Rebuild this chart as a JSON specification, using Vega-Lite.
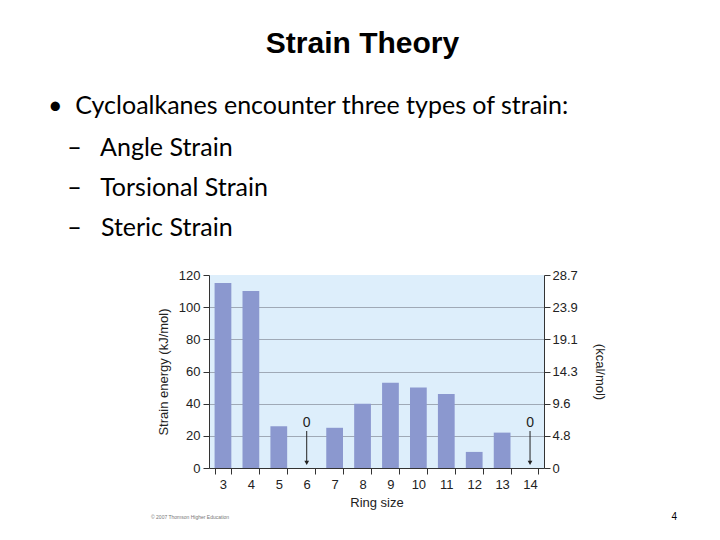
{
  "$schema": "https://vega.github.io/schema/vega-lite/v6.json",
  "padding": {"left": 48, "top": 29, "right": 5, "bottom": 5},
  "background": "white",
  "config": {"view": {"stroke": null}},
  "title": {
    "text": "Strain Theory",
    "anchor": "middle",
    "frame": "bounds",
    "font": "Liberation Sans",
    "fontSize": 30,
    "fontWeight": "bold",
    "color": "#000000",
    "offset": 35
  },
  "spacing": 3,
  "vconcat": [
    {
      "width": 335,
      "height": 193,
      "view": {"fill": "#ddeefb", "stroke": null},
      "title": {
        "text": "•\u00a0\u00a0Cycloalkanes encounter three types of strain:",
        "subtitle": [
          "\u200b\u00a0\u00a0\u00a0–\u00a0\u00a0\u00a0Angle Strain",
          "\u200b\u00a0\u00a0\u00a0–\u00a0\u00a0\u00a0Torsional Strain",
          "\u200b\u00a0\u00a0\u00a0–\u00a0\u00a0\u00a0Steric Strain"
        ],
        "anchor": "start",
        "frame": "group",
        "dx": -161,
        "font": "Lato",
        "fontSize": 25,
        "fontWeight": "normal",
        "color": "#000000",
        "subtitleFont": "Lato",
        "subtitleFontSize": 25,
        "subtitleColor": "#000000",
        "subtitleLineHeight": 40,
        "subtitlePadding": 17,
        "offset": 28
      },
      "data": {
        "values": [
          {"ring": 3, "energy": 115},
          {"ring": 4, "energy": 110},
          {"ring": 5, "energy": 26},
          {"ring": 6, "energy": 0},
          {"ring": 7, "energy": 25},
          {"ring": 8, "energy": 40},
          {"ring": 9, "energy": 53},
          {"ring": 10, "energy": 50},
          {"ring": 11, "energy": 46},
          {"ring": 12, "energy": 10},
          {"ring": 13, "energy": 22},
          {"ring": 14, "energy": 0}
        ]
      },
      "encoding": {
        "x": {
          "field": "ring",
          "type": "ordinal",
          "scale": {"paddingInner": 0.4, "paddingOuter": 0.2},
          "axis": {
            "title": "Ring size",
            "labelAngle": 0,
            "tickBand": "extent",
            "labelFont": "Liberation Sans",
            "labelFontSize": 13,
            "labelColor": "#222222",
            "labelPadding": 4,
            "tickColor": "#333333",
            "tickSize": 6,
            "domainColor": "#333333",
            "titleFont": "Liberation Sans",
            "titleFontSize": 13,
            "titleFontWeight": "normal",
            "titleColor": "#222222",
            "titlePadding": 5
          }
        }
      },
      "layer": [
        {
          "mark": {"type": "bar", "color": "#8b98cf"},
          "encoding": {
            "y": {
              "field": "energy",
              "type": "quantitative",
              "scale": {"domain": [0, 120], "nice": false},
              "axis": {
                "title": "Strain energy (kJ/mol)",
                "values": [0, 20, 40, 60, 80, 100, 120],
                "grid": true,
                "gridColor": {"condition": {"test": "datum.value == 120 || datum.value == 0", "value": "transparent"}, "value": "#9fa9b6"},
                "gridWidth": 1,
                "labelFont": "Liberation Sans",
                "labelFontSize": 13,
                "labelColor": "#222222",
                "labelPadding": 3,
                "tickColor": "#333333",
                "tickSize": 6,
                "domainColor": "#333333",
                "titleFont": "Liberation Sans",
                "titleFontSize": 13,
                "titleFontWeight": "normal",
                "titleColor": "#222222",
                "titlePadding": 8
              }
            }
          }
        },
        {
          "transform": [{"filter": "datum.energy == 0"}],
          "mark": {"type": "rule", "color": "#222222", "strokeWidth": 1},
          "encoding": {
            "y": {
              "datum": 23,
              "type": "quantitative",
              "axis": {
                "orient": "right",
                "title": "(kcal/mol)",
                "values": [0, 20, 40, 60, 80, 100, 120],
                "labelExpr": "datum.value == 0 ? '0' : format(datum.value / 4.184, '.1f')",
                "grid": false,
                "labelFont": "Liberation Sans",
                "labelFontSize": 13,
                "labelColor": "#222222",
                "labelPadding": 2,
                "tickColor": "#333333",
                "tickSize": 6,
                "domainColor": "#333333",
                "titleFont": "Liberation Sans",
                "titleFontSize": 13,
                "titleFontWeight": "normal",
                "titleColor": "#222222",
                "titlePadding": 15
              }
            },
            "y2": {"datum": 3}
          }
        },
        {
          "transform": [{"filter": "datum.energy == 0"}],
          "mark": {"type": "point", "shape": "triangle-down", "filled": true, "color": "#222222", "size": 22, "opacity": 1},
          "encoding": {
            "y": {"datum": 3.2, "type": "quantitative", "axis": null}
          }
        },
        {
          "transform": [{"filter": "datum.energy == 0"}],
          "mark": {"type": "text", "font": "Liberation Sans", "fontSize": 14, "color": "#222222"},
          "encoding": {
            "y": {"datum": 28, "type": "quantitative", "axis": null},
            "text": {"field": "energy", "type": "quantitative"}
          }
        }
      ],
      "resolve": {"axis": {"y": "independent"}}
    },
    {
      "width": 468,
      "height": 10,
      "data": {
        "values": [
          {"kind": "copyright", "label": "© 2007 Thomson Higher Education"},
          {"kind": "page", "label": "4"}
        ]
      },
      "encoding": {
        "x": {
          "field": "kind",
          "type": "nominal",
          "scale": {"type": "point", "domain": ["copyright", "page"], "range": [-58, 468], "padding": 0},
          "axis": null
        },
        "text": {"field": "label", "type": "nominal"}
      },
      "layer": [
        {
          "transform": [{"filter": "datum.kind == 'copyright'"}],
          "mark": {"type": "text", "align": "left", "font": "Liberation Sans", "fontSize": 5, "color": "#777777"}
        },
        {
          "transform": [{"filter": "datum.kind == 'page'"}],
          "mark": {"type": "text", "align": "right", "font": "Liberation Sans", "fontSize": 10, "color": "#000000"}
        }
      ]
    }
  ]
}
